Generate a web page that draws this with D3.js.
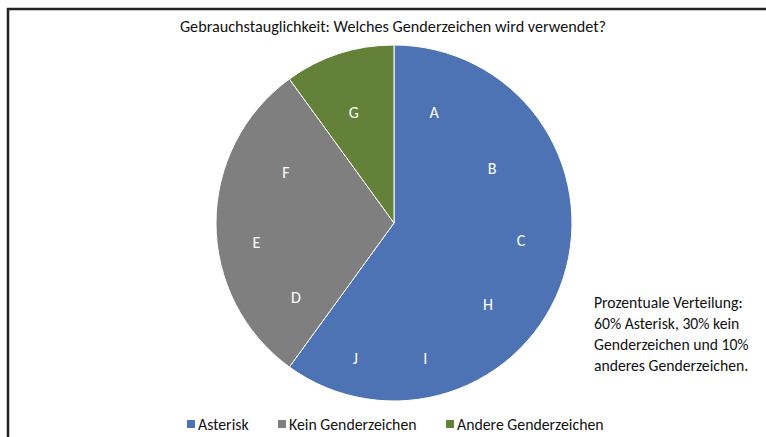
<!DOCTYPE html>
<html>
<head>
<meta charset="utf-8">
<script src="https://cdn.jsdelivr.net/npm/d3@7"></script>
<style>
  body { margin: 0; background: #fff; }
  svg { display: block; font-family: Carlito, "Open Sans", sans-serif; }
</style>
</head>
<body>
<div></div>
<script>
var categories = ['Asterisk', 'Kein Genderzeichen', 'Andere Genderzeichen'];
var values = [60, 30, 10];
var colors = ['#4e73b5', '#7f7f7f', '#648139'];

// Buchstaben in den Segmenten: Winkel (Grad, ab 12 Uhr im Uhrzeigersinn) und relativer Radius
var letters = ['A', 'B', 'C', 'H', 'I', 'J', 'D', 'E', 'F', 'G'];
var letterAngles = [20, 61, 98, 131, 167, 196, 233, 262, 295, 340];
var letterRadii = [0.66, 0.63, 0.72, 0.70, 0.78, 0.79, 0.69, 0.78, 0.67, 0.66];

var note = ['Prozentuale Verteilung:', '60% Asterisk, 30% kein', 'Genderzeichen und 10%', 'anderes Genderzeichen.'];
var title = 'Gebrauchstauglichkeit: Welches Genderzeichen wird verwendet?';

var width = 766;
var height = 437;

var svg = d3.select('div')
    .append('svg')
    .attr('width', width)
    .attr('height', height);

// Rahmen (rechts und unten abgeschnitten)
svg.append('path')
    .attr('d', 'M8,' + height + ' L8,9 L' + width + ',9')
    .attr('fill', 'none')
    .attr('stroke', '#222')
    .attr('stroke-width', 2.5);

svg.append('text')
    .attr('x', 393)
    .attr('y', 32)
    .attr('text-anchor', 'middle')
    .style('font-size', '16.2px')
    .attr('fill', '#111')
    .text(title);

var cx = 394, cy = 223, radius = 178;

var pie = d3.pie().sort(null).value((d) => d);
var arc = d3.arc().innerRadius(0).outerRadius(radius);

var g = svg.append('g')
    .attr('transform', 'translate(' + cx + ',' + cy + ')');

g.selectAll('path')
    .data(pie(values))
    .enter()
    .append('path')
    .attr('d', arc)
    .attr('fill', (d, i) => colors[i])
    .attr('stroke', '#fff')
    .attr('stroke-width', 1);

var angle = d3.scaleLinear().domain([0, 360]).range([0, 2 * Math.PI]);
var rScale = d3.scaleLinear().domain([0, 1]).range([0, radius]);

g.selectAll('text.letter')
    .data(letters)
    .enter()
    .append('text')
    .attr('class', 'letter')
    .attr('x', (d, i) => rScale(letterRadii[i]) * Math.sin(angle(letterAngles[i])))
    .attr('y', (d, i) => -rScale(letterRadii[i]) * Math.cos(angle(letterAngles[i])))
    .attr('dy', '0.35em')
    .attr('text-anchor', 'middle')
    .attr('fill', '#fff')
    .style('font-size', '16px')
    .text((d) => d);

// Anmerkung rechts
svg.append('g')
    .selectAll('text')
    .data(note)
    .enter()
    .append('text')
    .attr('x', 594)
    .attr('y', (d, i) => 308 + i * 21)
    .attr('fill', '#111')
    .style('font-size', '15.7px')
    .text((d) => d);

// Legende
var legendX = [187, 278, 446];
var legend = svg.append('g')
    .selectAll('g')
    .data(categories)
    .enter()
    .append('g')
    .attr('transform', (d, i) => 'translate(' + legendX[i] + ',424)');

legend.append('rect')
    .attr('x', 0)
    .attr('y', -4)
    .attr('width', 8)
    .attr('height', 8)
    .attr('fill', (d, i) => colors[i]);

legend.append('text')
    .attr('x', 11)
    .attr('y', 0)
    .attr('dy', '0.35em')
    .attr('fill', '#111')
    .style('font-size', '15.8px')
    .text((d) => d);
</script>
</body>
</html>
